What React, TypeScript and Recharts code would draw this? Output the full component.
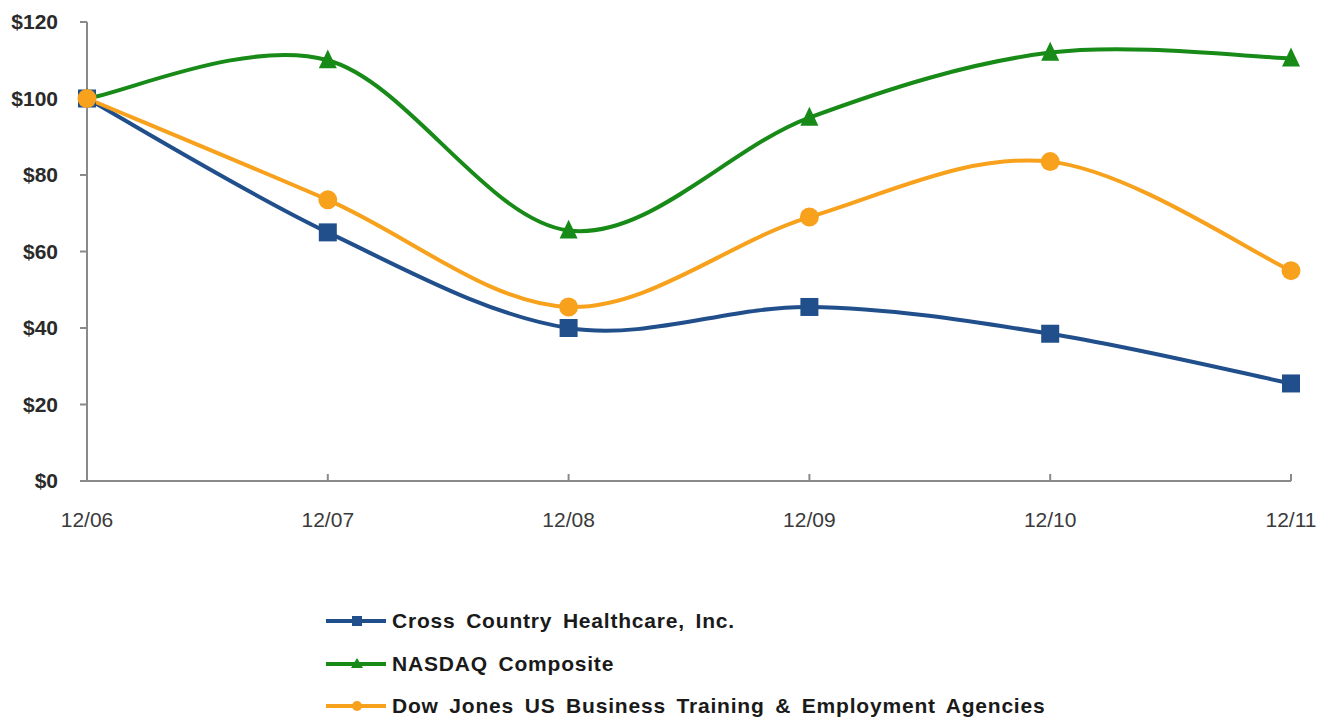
import { Legend, Line, LineChart, XAxis, YAxis } from "recharts";

const years = ["12/06", "12/07", "12/08", "12/09", "12/10", "12/11"];
const crossCountry = [100, 65, 40, 45.5, 38.5, 25.5];
const nasdaq = [100, 110, 65.5, 95, 112, 110.5];
const dowJones = [100, 73.5, 45.5, 69, 83.5, 55];
const yTicks = [0, 20, 40, 60, 80, 100, 120];

const BLUE = "#214f8b";
const GREEN = "#178a17";
const ORANGE = "#f7a11c";

const data = years.map((year, i) => ({
  year,
  cross: crossCountry[i],
  nasdaq: nasdaq[i],
  dow: dowJones[i],
}));

// Excel-style smoothing (uniform Catmull-Rom)
const smooth = (context: any) => {
  let pts: number[][] = [];
  return {
    areaStart() {},
    areaEnd() {},
    lineStart() {
      pts = [];
    },
    point(x: number, y: number) {
      pts.push([+x, +y]);
    },
    lineEnd() {
      if (!pts.length) return;
      context.moveTo(pts[0][0], pts[0][1]);
      for (let i = 0; i < pts.length - 1; i++) {
        const p0 = pts[Math.max(0, i - 1)];
        const p1 = pts[i];
        const p2 = pts[i + 1];
        const p3 = pts[Math.min(pts.length - 1, i + 2)];
        context.bezierCurveTo(
          p1[0] + (p2[0] - p0[0]) / 6,
          p1[1] + (p2[1] - p0[1]) / 6,
          p2[0] - (p3[0] - p1[0]) / 6,
          p2[1] - (p3[1] - p1[1]) / 6,
          p2[0],
          p2[1]
        );
      }
    },
  };
};

const square = (color: string, s: number) => (p: any) => (
  <rect key={p.index} x={p.cx - s / 2} y={p.cy - s / 2} width={s} height={s} fill={color} />
);
const triangle = (color: string, s: number) => (p: any) => (
  <polygon
    key={p.index}
    points={`${p.cx},${p.cy - s * 0.6} ${p.cx - s / 2},${p.cy + s * 0.45} ${p.cx + s / 2},${p.cy + s * 0.45}`}
    fill={color}
  />
);
const circle = (color: string, r: number) => (p: any) => (
  <circle key={p.index} cx={p.cx} cy={p.cy} r={r} fill={color} />
);

const legendRows = [
  { name: "Cross Country Healthcare, Inc.", color: BLUE, marker: "square" },
  { name: "NASDAQ Composite", color: GREEN, marker: "triangle" },
  { name: "Dow Jones US Business Training & Employment Agencies", color: ORANGE, marker: "circle" },
];

const LegendContent = () => (
  <div>
    {legendRows.map((r) => (
      <div key={r.name} style={{ display: "flex", alignItems: "center", height: 42.5 }}>
        <svg width={66} height={14}>
          <line x1={0} y1={7} x2={60} y2={7} stroke={r.color} strokeWidth={4} />
          {r.marker === "square" && <rect x={26} y={2} width={10} height={10} fill={r.color} />}
          {r.marker === "triangle" && <polygon points="31,1 25,11 37,11" fill={r.color} />}
          {r.marker === "circle" && <circle cx={31} cy={7} r={5} fill={r.color} />}
        </svg>
        <span
          style={{
            fontFamily: "'Liberation Sans', Arial, sans-serif",
            fontWeight: "bold",
            fontSize: 21,
            letterSpacing: 0.8,
            wordSpacing: 4,
            color: "#1a1a1a",
            whiteSpace: "pre",
          }}
        >
          {r.name}
        </span>
      </div>
    ))}
  </div>
);

export default function App() {
  return (
    <div style={{ position: "absolute", left: 0, top: 0, background: "#fff" }}>
      <LineChart width={1320} height={717} data={data} margin={{ top: 22, right: 29, left: 10, bottom: 176 }}>
        <XAxis
          dataKey="year"
          height={60}
          axisLine={{ stroke: "#8a8a8a", strokeWidth: 2 }}
          tickLine={{ stroke: "#8a8a8a", strokeWidth: 2 }}
          tickSize={-7}
          tickMargin={38}
          tick={{ fill: "#3a3a3a", fontSize: 21, fontFamily: "'Liberation Sans', Arial, sans-serif" }}
        />
        <YAxis
          width={77}
          domain={[0, 120]}
          ticks={yTicks}
          interval={0}
          axisLine={{ stroke: "#8a8a8a", strokeWidth: 2 }}
          tickLine={{ stroke: "#8a8a8a", strokeWidth: 2 }}
          tickSize={7}
          tickMargin={22}
          tickFormatter={(v: number) => `$${v}`}
          tick={{ fill: "#2a2a2a", fontSize: 21, fontWeight: "bold", fontFamily: "'Liberation Sans', Arial, sans-serif" }}
        />
        <Legend
          layout="vertical"
          verticalAlign="middle"
          align="center"
          wrapperStyle={{ top: 600, left: 326, width: "auto" }}
          content={LegendContent}
        />
        <Line
          dataKey="nasdaq"
          type={smooth as any}
          stroke={GREEN}
          strokeWidth={4}
          dot={triangle(GREEN, 18)}
          activeDot={false}
          isAnimationActive={false}
        />
        <Line
          dataKey="cross"
          type={smooth as any}
          stroke={BLUE}
          strokeWidth={4}
          dot={square(BLUE, 18)}
          activeDot={false}
          isAnimationActive={false}
        />
        <Line
          dataKey="dow"
          type={smooth as any}
          stroke={ORANGE}
          strokeWidth={4}
          dot={circle(ORANGE, 9.5)}
          activeDot={false}
          isAnimationActive={false}
        />
      </LineChart>
    </div>
  );
}
